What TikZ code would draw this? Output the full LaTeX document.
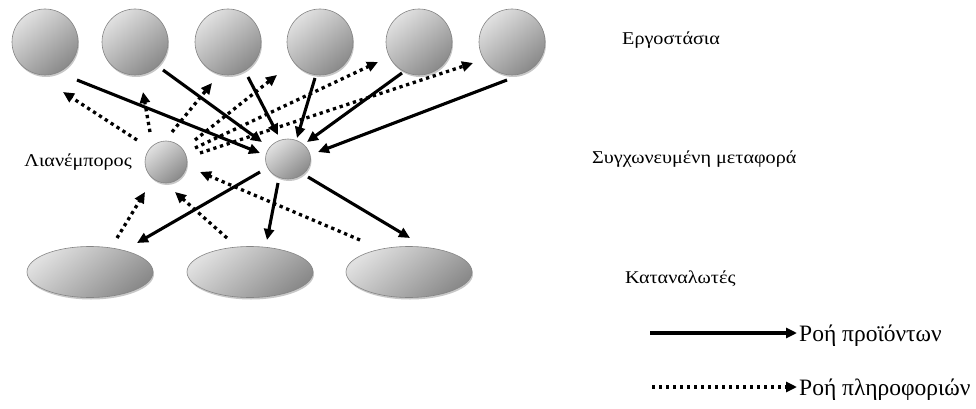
\documentclass[tikz,border=0pt]{standalone}
\usepackage{fontspec}
\setmainfont{Liberation Serif}
\newfontfamily\widelabelfont{Liberation Serif}[FakeStretch=1.12]
\usetikzlibrary{arrows.meta,calc,shadows,shapes.geometric}

\begin{document}
\begin{tikzpicture}[x=1pt,y=-1pt,
  shadedshape/.style={inner sep=0pt, draw=black!48, line width=0.6pt,
    top color=black!12, bottom color=black!46, shading angle=40,
    drop shadow={shadow xshift=1pt, shadow yshift=-2pt, opacity=0.22, fill=black}},
  factory/.style={shadedshape, circle, minimum size=66pt},
  smallball/.style={shadedshape, ellipse, minimum width=#1, minimum height=40pt},
  consumer/.style={shadedshape, ellipse, minimum width=126pt, minimum height=51pt},
  tip/.style={-{Triangle[length=11pt,width=10pt]}},
  prod/.style={tip, line width=3.1pt},
  info/.style={tip, line width=3.3pt, dash pattern=on 3.3pt off 3.7pt},
  lbl/.style={font=\widelabelfont\fontsize{18}{21}\selectfont, inner sep=0pt},
  leg/.style={font=\fontsize{23.5}{27}\selectfont, inner sep=0pt, anchor=base west}
]
\useasboundingbox (0,0) rectangle (976,409);
\fill[white] (0,0) rectangle (976,409);

% factories
\node[factory] (f1) at (45,42) {};
\node[factory] (f2) at (135,42) {};
\node[factory] (f3) at (228,42) {};
\node[factory] (f4) at (320,42) {};
\node[factory] (f5) at (419,42) {};
\node[factory] (f6) at (512,42) {};

% retailer and merged-transport hub
\node[smallball=42pt, minimum height=42pt] (ret) at (166,162) {};
\node[smallball=45pt] (hub) at (288,159) {};

% consumers
\node[consumer] (c1) at (90,272) {};
\node[consumer] (c2) at (250,272) {};
\node[consumer] (c3) at (409,272) {};

% labels
\node[lbl, anchor=east] (lret) at (132,162) {Λιανέμπορος};
\node[lbl, anchor=west] (lfac) at (622,40) {Εργοστάσια};
\node[lbl, anchor=west] (lhub) at (592,159) {Συγχωνευμένη μεταφορά};
\node[lbl, anchor=west] (lcon) at (625,279) {Καταναλωτές};

% product flow: factories -> hub
\draw[prod] ($(f1)+(32,38)$) -- ($(hub)+(-28,-6)$);
\draw[prod] ($(f2)+(28,28)$) -- ($(hub)+(-26,-17)$);
\draw[prod] ($(f3)+(20,35)$) -- ($(hub)+(-10,-24)$);
\draw[prod] ($(f4)+(-5,36)$) -- ($(hub)+(9,-21)$);
\draw[prod] ($(f5)+(-17,31)$) -- ($(hub)+(19,-17)$);
\draw[prod] ($(f6)+(-5,38)$) -- ($(hub)+(30,-7)$);

% product flow: hub -> consumers
\draw[prod] ($(hub)+(-28,13)$) -- ($(c1)+(47,-29)$);
\draw[prod] ($(hub)+(-10,24)$) -- ($(c2)+(17,-32)$);
\draw[prod] ($(hub)+(20,18)$) -- ($(c3)+(1,-34)$);

% information flow: retailer -> factories
\draw[info] ($(ret)+(-29,-22)$) -- ($(f1)+(18,50)$);
\draw[info] ($(ret)+(-16,-30)$) -- ($(f2)+(8,50)$);
\draw[info] ($(ret)+(6,-30)$) -- ($(f3)+(-16,41)$);
\draw[info] ($(ret)+(29,-22)$) -- ($(f4)+(-43,33)$);
\draw[info] ($(ret)+(29,-14)$) -- ($(f5)+(-41,20)$);
\draw[info] ($(ret)+(34,-9)$) -- ($(f6)+(-39,21)$);

% information flow: consumers -> retailer
\draw[info] ($(c1)+(27,-34)$) -- ($(ret)+(-21,30)$);
\draw[info] ($(c2)+(-23,-34)$) -- ($(ret)+(9,30)$);
\draw[info] ($(c3)+(-49,-32)$) -- ($(ret)+(34,10)$);

% legend
\node[leg] (t1) at (799,341) {Ροή προϊόντων};
\node[leg] (t2) at (799,395) {Ροή πληροφοριών};
\coordinate (s1) at (650,333);
\coordinate (s2) at (652,387);
\draw[prod, shorten >=2pt] (s1) -- (t1.west |- s1);
\draw[info, shorten >=2pt] (s2) -- (t2.west |- s2);
\end{tikzpicture}
\end{document}
